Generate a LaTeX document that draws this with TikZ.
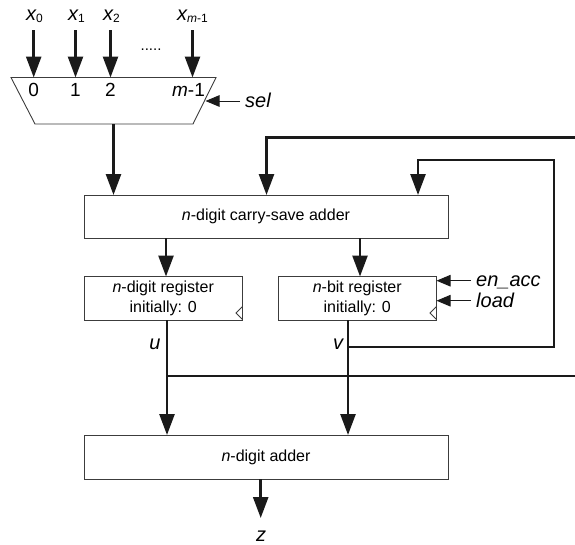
\documentclass[tikz,border=0pt]{standalone}
\usepackage{fontspec}
\setmainfont{Liberation Sans}
\usetikzlibrary{arrows.meta,calc}
\definecolor{ink}{HTML}{1A1A1A}
\newcommand{\subtxt}[1]{\raisebox{-0.1em}{\fontsize{12}{14}\selectfont #1}}
\tikzset{
  block/.style={draw=ink!85,line width=0.9pt,fill=white,inner sep=0pt,font=\fontsize{16}{20}\selectfont,align=center},
  bus/.style={draw=ink,line width=2.6pt},
  busarrow/.style={bus,-{Triangle[length=21pt,width=15pt]}},
  ctl/.style={draw=ink,line width=1pt,-{Triangle[length=14pt,width=11.5pt]}},
  lab/.style={font=\fontsize{20}{22}\selectfont\itshape,inner sep=0pt},
  digit/.style={font=\fontsize{19}{21}\selectfont,inner sep=0pt},
  thin/.style={draw=ink!85,line width=0.8pt}
}
\begin{document}
\begin{tikzpicture}[x=1pt,y=-1pt]
\useasboundingbox (0,0) rectangle (575,544);
% multiplexer
\draw[thin,line width=0.9pt] (11,77.5) coordinate (muxtl) -- (216,77.5) coordinate (muxtr) -- (193,124) -- (35,124) -- cycle;
\coordinate (mux0) at (33.7,77.5);
\coordinate (mux1) at (75.5,77.5);
\coordinate (mux2) at (110.5,77.5);
\coordinate (muxm) at (192.5,77.5);
\coordinate (muxout) at (113.5,124);
\coordinate (muxsel) at (205.5,101);
% inputs
\node[lab,anchor=base west] (x0) at (26,20) {x\subtxt{\upshape 0}};
\node[lab,anchor=base west] (x1) at (68,20) {x\subtxt{\upshape 1}};
\node[lab,anchor=base west] (x2) at (103,20) {x\subtxt{\upshape 2}};
\node[lab,anchor=base west] (xm) at (177,20) {x\subtxt{m\upshape -1}};
\coordinate (in0) at (33.7,30);
\coordinate (in1) at (75.5,30);
\coordinate (in2) at (110.5,30);
\coordinate (inm) at (192.5,30);
\draw[busarrow] (in0) -- (mux0);
\draw[busarrow] (in1) -- (mux1);
\draw[busarrow] (in2) -- (mux2);
\draw[busarrow] (inm) -- (muxm);
\node[inner sep=0pt,font=\fontsize{15}{17}\selectfont] (dots) at (151,50) {.....};
\node[digit] (d0) at (33.7,90) {0};
\node[digit] (d1) at (75.5,90) {1};
\node[digit] (d2) at (110.5,90) {2};
\node[digit] (dm) at (188.5,90) {\textit{m}-1};
\node[lab,anchor=base west] (sel) at (245,107) {sel};
\coordinate (selstart) at (240,101);
\draw[ctl] (selstart) -- (muxsel);
% blocks
\node[block,minimum width=364pt,minimum height=43pt] (csa) at (266,216.5) {\textit{n}-digit carry-save adder};
\node[block,minimum width=158.5pt,minimum height=43.5pt] (regu) at (163.25,298.25) {\textit{n}-digit register\\initially: 0};
\node[block,minimum width=158.5pt,minimum height=43.5pt] (regv) at (357.25,298.25) {\textit{n}-bit register\\initially: 0};
\node[block,minimum width=364pt,minimum height=44pt] (add) at (266,457) {\textit{n}-digit adder};
% clock marks
\draw[thin] (242.5,306.5) -- (236,313) -- (242.5,319.5);
\draw[thin] (436.5,306.5) -- (430,313) -- (436.5,319.5);
% anchors on blocks
\coordinate (csa1) at (113.5,195);
\coordinate (csa2) at (266.5,195);
\coordinate (csa3) at (418,195);
\coordinate (ucsa) at (166,238);
\coordinate (vcsa) at (360,238);
\coordinate (ureg) at (166,276.5);
\coordinate (vreg) at (360,276.5);
\coordinate (uo) at (167,320);
\coordinate (vo) at (348,320);
\coordinate (ua) at (167,435);
\coordinate (va) at (348,435);
\coordinate (ujoin) at (167,376);
\coordinate (vjoin) at (348,347);
\coordinate (outr) at (575,376);
\coordinate (fb1) at (575,137.5);
\coordinate (fb1c) at (266.5,137.5);
\coordinate (fb2c) at (418,160);
\coordinate (fb2r) at (554,160);
\coordinate (fb2b) at (554,347);
\coordinate (zo) at (260.7,479);
\coordinate (zi) at (260.7,518);
% buses
\draw[busarrow] (muxout) -- (csa1);
\draw[busarrow] (fb1) -- (fb1c) -- (csa2);
\draw[busarrow] (vjoin) -- (fb2b) -- (fb2r) -- (fb2c) -- (csa3);
\draw[busarrow] (ucsa) -- (ureg);
\draw[busarrow] (vcsa) -- (vreg);
\draw[busarrow] (uo) -- (ua);
\draw[busarrow] (vo) -- (va);
\draw[bus] (ujoin) -- (outr);
\draw[busarrow] (zo) -- (zi);
% labels
\node[lab,anchor=base] (u) at (155,349) {u};
\node[lab,anchor=base] (v) at (338,349) {v};
\node[lab,anchor=base] (z) at (261,541) {z};
\node[lab,anchor=base west] (enacc) at (476,286.5) {en\_acc};
\node[lab,anchor=base west] (load) at (476,307) {load};
\coordinate (enstart) at (471,280.7);
\coordinate (loadstart) at (471,300.7);
\coordinate (entip) at (436.5,280.7);
\coordinate (loadtip) at (436.5,300.7);
\draw[ctl] (enstart) -- (entip);
\draw[ctl] (loadstart) -- (loadtip);
\end{tikzpicture}
\end{document}
